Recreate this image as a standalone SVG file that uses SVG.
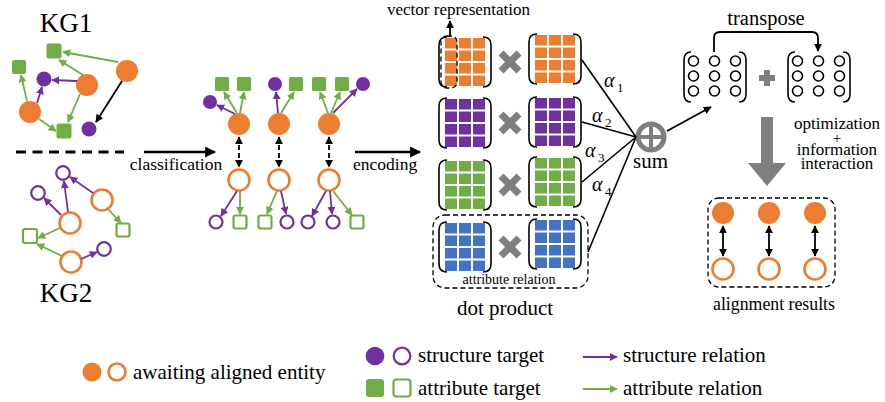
<svg xmlns="http://www.w3.org/2000/svg" width="885" height="402" viewBox="0 0 885 402">
<style>
text{font-family:'Liberation Serif','DejaVu Serif',serif}
.of{fill:#ED7D31}
.oh{fill:#fff;stroke:#ED7D31;stroke-width:2.6}
.pf{fill:#7030A0}
.ph{fill:#fff;stroke:#7030A0;stroke-width:2.2}
.gf{fill:#70AD47}
.gh{fill:#fff;stroke:#70AD47;stroke-width:2.2}
.ep{stroke:#7030A0;stroke-width:1.8;fill:none;marker-end:url(#mp)}
.eg{stroke:#70AD47;stroke-width:1.8;fill:none;marker-end:url(#mg)}
.ek{stroke:#000;stroke-width:1.8;fill:none;marker-end:url(#mk)}
.big{stroke:#000;stroke-width:2.6;fill:none;marker-end:url(#mb)}
.dbl{stroke:#000;stroke-width:1.8;fill:none;marker-start:url(#mk2);marker-end:url(#mk2)}
.x{stroke:#7F7F7F;stroke-width:7}
.dash{fill:none;stroke:#000;stroke-width:1.3;stroke-dasharray:5 3}
.br{fill:none;stroke:#000;stroke-width:1.6}
.cl{fill:#fff;stroke:#000;stroke-width:1.6}
.ln{stroke:#000;stroke-width:1.6;fill:none}
</style>
<defs>
<marker id="mp" viewBox="0 0 10 10" refX="9" refY="5" markerUnits="userSpaceOnUse" markerWidth="8" markerHeight="8" orient="auto"><path d="M0,0 L10,5 L0,10 z" fill="#7030A0"/></marker>
<marker id="mg" viewBox="0 0 10 10" refX="9" refY="5" markerUnits="userSpaceOnUse" markerWidth="8" markerHeight="8" orient="auto"><path d="M0,0 L10,5 L0,10 z" fill="#70AD47"/></marker>
<marker id="mk" viewBox="0 0 10 10" refX="9" refY="5" markerUnits="userSpaceOnUse" markerWidth="8" markerHeight="8" orient="auto"><path d="M0,0 L10,5 L0,10 z" fill="#000"/></marker>
<marker id="mk2" viewBox="0 0 10 10" refX="9" refY="5" markerUnits="userSpaceOnUse" markerWidth="8" markerHeight="8" orient="auto-start-reverse"><path d="M0,0 L10,5 L0,10 z" fill="#000"/></marker>
<marker id="mb" viewBox="0 0 10 10" refX="9" refY="5" markerUnits="userSpaceOnUse" markerWidth="11" markerHeight="11" orient="auto"><path d="M0,0 L10,5 L0,10 z" fill="#000"/></marker>
<g id="grid">
<rect x="0" y="0" width="12" height="10.5"/><rect x="14" y="0" width="12" height="10.5"/><rect x="28" y="0" width="12" height="10.5"/>
<rect x="0" y="12.5" width="12" height="10.5"/><rect x="14" y="12.5" width="12" height="10.5"/><rect x="28" y="12.5" width="12" height="10.5"/>
<rect x="0" y="25" width="12" height="10.5"/><rect x="14" y="25" width="12" height="10.5"/><rect x="28" y="25" width="12" height="10.5"/>
<rect x="0" y="37.5" width="12" height="10.5"/><rect x="14" y="37.5" width="12" height="10.5"/><rect x="28" y="37.5" width="12" height="10.5"/>
</g>
<path id="brk" class="br" d="M9,0 Q1,0 1,8 V42 Q1,50 9,50 M45,0 Q53,0 53,8 V42 Q53,50 45,50"/>
<path id="brk2" class="br" d="M8,0 Q1,0 1,8 V42 Q1,50 8,50 M56,0 Q63,0 63,8 V42 Q63,50 56,50"/>
<g id="circs">
<circle class="cl" cx="10.5" cy="9" r="5"/><circle class="cl" cx="31.5" cy="9" r="5"/><circle class="cl" cx="52.5" cy="9" r="5"/>
<circle class="cl" cx="10.5" cy="24" r="5"/><circle class="cl" cx="31.5" cy="24" r="5"/><circle class="cl" cx="52.5" cy="24" r="5"/>
<circle class="cl" cx="10.5" cy="39" r="5"/><circle class="cl" cx="31.5" cy="39" r="5"/><circle class="cl" cx="52.5" cy="39" r="5"/>
</g>
<g id="cross"><line class="x" x1="-9" y1="-9" x2="9" y2="9"/><line class="x" x1="-9" y1="9" x2="9" y2="-9"/></g>
</defs>
<rect width="885" height="402" fill="#fff"/>

<g font-family="'Liberation Serif', 'DejaVu Serif', serif" fill="#000">
<text x="66" y="32" font-size="27" text-anchor="middle">KG1</text>
<text x="66" y="302" font-size="27" text-anchor="middle">KG2</text>
<text x="176" y="170" font-size="17.5" text-anchor="middle">classification</text>
<text x="353" y="170" font-size="17.5">encoding</text>
<text x="387" y="15" font-size="17">vector representation</text>
<text x="509" y="284" font-size="14" text-anchor="middle">attribute relation</text>
<text x="505" y="315" font-size="21" text-anchor="middle">dot product</text>
<text x="633" y="168" font-size="21">sum</text>
<text x="766" y="25" font-size="20.5" text-anchor="middle">transpose</text>
<text x="837" y="129" font-size="17" text-anchor="middle">optimization</text>
<text x="837" y="143" font-size="15" text-anchor="middle">+</text>
<text x="837" y="155" font-size="17" text-anchor="middle">information</text>
<text x="837" y="169" font-size="17" text-anchor="middle">interaction</text>
<text x="774" y="310" font-size="17.8" text-anchor="middle">alignment results</text>
<text x="604" y="87" font-size="20" font-style="italic">α</text><text x="617" y="92" font-size="13">1</text>
<text x="592" y="122" font-size="20" font-style="italic">α</text><text x="605" y="127" font-size="13">2</text>
<text x="585" y="157" font-size="20" font-style="italic">α</text><text x="598" y="162" font-size="13">3</text>
<text x="592" y="191" font-size="20" font-style="italic">α</text><text x="605" y="196" font-size="13">4</text>
</g>

<line x1="16" y1="152" x2="124" y2="152" stroke="#000" stroke-width="3" stroke-dasharray="10 6.5"/>

<g id="kg1-e1"><circle class="of" cx="127" cy="71" r="11"/></g>
<g id="kg1-e2"><circle class="of" cx="87" cy="85" r="11"/></g>
<g id="kg1-e3"><circle class="of" cx="30" cy="112" r="11"/></g>
<g id="kg1-a1"><rect class="gf" x="46.5" y="43.5" width="15" height="15" rx="2"/></g>
<g id="kg1-a2"><rect class="gf" x="12" y="60" width="14" height="14" rx="2"/></g>
<g id="kg1-a3"><rect class="gf" x="56.5" y="123.5" width="15" height="15" rx="2"/></g>
<g id="kg1-s1"><circle class="pf" cx="44" cy="79" r="7.5"/></g>
<g id="kg1-s2"><circle class="pf" cx="89" cy="129" r="7.5"/></g>

<g id="kg2-e1"><circle class="oh" cx="102" cy="200" r="10.5"/></g>
<g id="kg2-e2"><circle class="oh" cx="70" cy="223" r="10.5"/></g>
<g id="kg2-e3"><circle class="oh" cx="71" cy="262" r="10.5"/></g>
<g id="kg2-s1"><circle class="ph" cx="63" cy="173" r="6.8"/></g>
<g id="kg2-s2"><circle class="ph" cx="38" cy="193" r="6.8"/></g>
<g id="kg2-s3"><circle class="ph" cx="104" cy="249" r="6.8"/></g>
<g id="kg2-a1"><rect class="gh" x="23" y="229" width="14" height="14" rx="2"/></g>
<g id="kg2-a2"><rect class="gh" x="116.5" y="223.5" width="13" height="13" rx="2"/></g>

<g id="c-e1"><circle class="of" cx="239" cy="124" r="11"/></g>
<g id="c-e2"><circle class="of" cx="279" cy="124" r="11"/></g>
<g id="c-e3"><circle class="of" cx="329" cy="124" r="11"/></g>
<g id="c-f1"><circle class="oh" cx="239" cy="180" r="10.5"/></g>
<g id="c-f2"><circle class="oh" cx="279" cy="180" r="10.5"/></g>
<g id="c-f3"><circle class="oh" cx="329" cy="180" r="10.5"/></g>
<g id="c-t1"><circle class="pf" cx="210" cy="102" r="7"/></g>
<g id="c-t2"><rect class="gf" x="215" y="77" width="14" height="14" rx="1.5"/></g>
<g id="c-t3"><rect class="gf" x="237" y="77" width="14" height="14" rx="1.5"/></g>
<g id="c-t4"><circle class="pf" cx="275" cy="84" r="7"/></g>
<g id="c-t5"><rect class="gf" x="289" y="77" width="14" height="14" rx="1.5"/></g>
<g id="c-t6"><rect class="gf" x="312" y="77" width="14" height="14" rx="1.5"/></g>
<g id="c-t7"><rect class="gf" x="335" y="77" width="14" height="14" rx="1.5"/></g>
<g id="c-t8"><circle class="pf" cx="363" cy="84" r="7"/></g>
<g id="c-b1"><circle class="ph" cx="216" cy="222" r="6.5"/></g>
<g id="c-b2"><rect class="gh" x="233.5" y="215.5" width="13" height="13" rx="2"/></g>
<g id="c-b3"><rect class="gh" x="258.5" y="215.5" width="13" height="13" rx="2"/></g>
<g id="c-b4"><circle class="ph" cx="287" cy="222" r="6.5"/></g>
<g id="c-b5"><circle class="ph" cx="308" cy="222" r="6.5"/></g>
<g id="c-b6"><circle class="ph" cx="333" cy="222" r="6.5"/></g>
<g id="c-b7"><rect class="gh" x="350.5" y="215.5" width="13" height="13" rx="2"/></g>

<g id="m-orange-l"><use href="#brk" x="438" y="37"/><use href="#grid" x="445" y="38" fill="#ED7D31"/><rect class="dash" x="441" y="36" width="16" height="52" rx="6"/></g>
<g id="m-orange-r"><use href="#brk" x="528" y="34"/><use href="#grid" x="535" y="35" fill="#ED7D31"/></g>
<g id="m-purple-l"><use href="#brk" x="438" y="98"/><use href="#grid" x="445" y="99" fill="#7030A0"/></g>
<g id="m-purple-r"><use href="#brk" x="528" y="97"/><use href="#grid" x="535" y="98" fill="#7030A0"/></g>
<g id="m-green-l"><use href="#brk" x="438" y="160"/><use href="#grid" x="445" y="161" fill="#70AD47"/></g>
<g id="m-green-r"><use href="#brk" x="528" y="157"/><use href="#grid" x="535" y="158" fill="#70AD47"/></g>
<g id="m-blue-l"><use href="#brk" x="438" y="222"/><use href="#grid" x="445" y="223" fill="#4472C4"/></g>
<g id="m-blue-r"><use href="#brk" x="528" y="219"/><use href="#grid" x="535" y="220" fill="#4472C4"/></g>
<g id="attr-box"><rect class="dash" x="433" y="215" width="155" height="73" rx="12"/></g>
<g id="mult"><use href="#cross" x="510" y="62"/><use href="#cross" x="510" y="123"/><use href="#cross" x="510" y="185"/><use href="#cross" x="510" y="247"/></g>

<g id="sum"><circle cx="651" cy="137" r="13" fill="none" stroke="#7F7F7F" stroke-width="5"/><line x1="638" y1="137" x2="664" y2="137" stroke="#7F7F7F" stroke-width="4"/><line x1="651" y1="124" x2="651" y2="150" stroke="#7F7F7F" stroke-width="4"/></g>

<g id="t-left"><use href="#brk2" x="683" y="52"/><use href="#circs" x="683" y="52"/></g>
<g id="t-plus"><line x1="759" y1="78" x2="775" y2="78" stroke="#7F7F7F" stroke-width="6"/><line x1="767" y1="70" x2="767" y2="86" stroke="#7F7F7F" stroke-width="6"/></g>
<g id="t-right"><use href="#brk2" x="787" y="52"/><use href="#circs" x="787" y="52"/></g>
<g id="down-arrow"><polygon points="761,117 773,117 773,163 786,163 767,186 748,163 761,163" fill="#7F7F7F"/></g>

<g id="align-box"><rect class="dash" x="708" y="198" width="127" height="89" rx="11"/></g>
<g id="r-e1"><circle class="of" cx="723" cy="213" r="11"/></g>
<g id="r-e2"><circle class="of" cx="769" cy="213" r="11"/></g>
<g id="r-e3"><circle class="of" cx="815" cy="213" r="11"/></g>
<g id="r-f1"><circle class="oh" cx="723" cy="269" r="10.5"/></g>
<g id="r-f2"><circle class="oh" cx="769" cy="269" r="10.5"/></g>
<g id="r-f3"><circle class="oh" cx="815" cy="269" r="10.5"/></g>

<g id="connectors">
<line class="eg" x1="118" y1="62" x2="63" y2="52"/>
<line class="eg" x1="83" y1="75" x2="59" y2="60"/>
<line class="ep" x1="77" y1="81" x2="52" y2="80"/>
<line class="eg" x1="80" y1="94" x2="68" y2="122"/>
<line class="eg" x1="27" y1="101" x2="21" y2="75"/>
<line class="ep" x1="37" y1="103" x2="42" y2="87"/>
<line class="eg" x1="39" y1="119" x2="56" y2="131"/>
<line class="ek" x1="122" y1="81" x2="96" y2="122"/>
<line class="ep" x1="93" y1="193" x2="70" y2="177"/>
<line class="ep" x1="68" y1="212" x2="64" y2="181"/>
<line class="ep" x1="61" y1="215" x2="44" y2="198"/>
<line class="eg" x1="60" y1="228" x2="38" y2="238"/>
<line class="eg" x1="108" y1="209" x2="121" y2="223"/>
<line class="eg" x1="62" y1="256" x2="37" y2="244"/>
<line class="ep" x1="81" y1="259" x2="97" y2="252"/>
<line class="big" x1="144" y1="152" x2="215" y2="152"/>
<line class="big" x1="355" y1="152" x2="420" y2="152"/>
<line class="ep" x1="235" y1="114" x2="217" y2="105"/>
<line class="eg" x1="237" y1="113" x2="224" y2="92"/>
<line class="eg" x1="240" y1="113" x2="244" y2="92"/>
<line class="ep" x1="278" y1="113" x2="276" y2="92"/>
<line class="eg" x1="281" y1="113" x2="294" y2="92"/>
<line class="eg" x1="328" y1="113" x2="320" y2="92"/>
<line class="eg" x1="331" y1="113" x2="340" y2="92"/>
<line class="ep" x1="333" y1="113" x2="357" y2="89"/>
<line class="dbl" x1="239" y1="137" x2="239" y2="167" stroke-dasharray="5 3"/>
<line class="dbl" x1="279" y1="137" x2="279" y2="167" stroke-dasharray="5 3"/>
<line class="dbl" x1="329" y1="137" x2="329" y2="167" stroke-dasharray="5 3"/>
<line class="ep" x1="237" y1="191" x2="221" y2="216"/>
<line class="eg" x1="240" y1="191" x2="240" y2="214"/>
<line class="eg" x1="277" y1="191" x2="267" y2="214"/>
<line class="ep" x1="281" y1="191" x2="286" y2="214"/>
<line class="ep" x1="326" y1="191" x2="312" y2="216"/>
<line class="ep" x1="330" y1="191" x2="332" y2="214"/>
<line class="eg" x1="333" y1="191" x2="352" y2="215"/>
<line class="ek" x1="450" y1="37" x2="450" y2="21"/>
<line class="ln" x1="582" y1="60" x2="636" y2="137"/>
<line class="ln" x1="582" y1="122" x2="636" y2="137"/>
<line class="ln" x1="582" y1="182" x2="636" y2="137"/>
<line class="ln" x1="588" y1="252" x2="636" y2="137"/>
<line class="ek" x1="667" y1="131" x2="711" y2="107"/>
<path class="ek" d="M714,52 V38 Q714,32 720,32 H812 Q818,32 818,38 V51"/>
<line class="dbl" x1="723" y1="226" x2="723" y2="256"/>
<line class="dbl" x1="769" y1="226" x2="769" y2="256"/>
<line class="dbl" x1="815" y1="226" x2="815" y2="256"/>
</g>

<g id="legend-entity"><circle class="of" cx="92" cy="372" r="9.5"/><circle class="oh" cx="117" cy="372" r="8.5"/><text x="133" y="379" font-size="21" font-family="'Liberation Serif', 'DejaVu Serif', serif">awaiting aligned entity</text></g>
<g id="legend-structure"><circle class="pf" cx="375" cy="356" r="9.3"/><circle class="ph" cx="402" cy="356" r="8.3" stroke-width="2.4"/><text x="418" y="362" font-size="21" font-family="'Liberation Serif', 'DejaVu Serif', serif">structure target</text></g>
<g id="legend-attribute"><rect class="gf" x="366" y="379" width="18" height="18" rx="3"/><rect class="gh" x="393.5" y="379.5" width="17" height="17" rx="3" stroke-width="2.4"/><text x="418" y="395" font-size="21" font-family="'Liberation Serif', 'DejaVu Serif', serif">attribute target</text></g>
<g id="legend-srel"><line class="ep" x1="583" y1="357" x2="617" y2="357"/><text x="623" y="362" font-size="21" font-family="'Liberation Serif', 'DejaVu Serif', serif">structure relation</text></g>
<g id="legend-arel"><line class="eg" x1="583" y1="389" x2="617" y2="389"/><text x="623" y="395" font-size="21" font-family="'Liberation Serif', 'DejaVu Serif', serif">attribute relation</text></g>
</svg>
